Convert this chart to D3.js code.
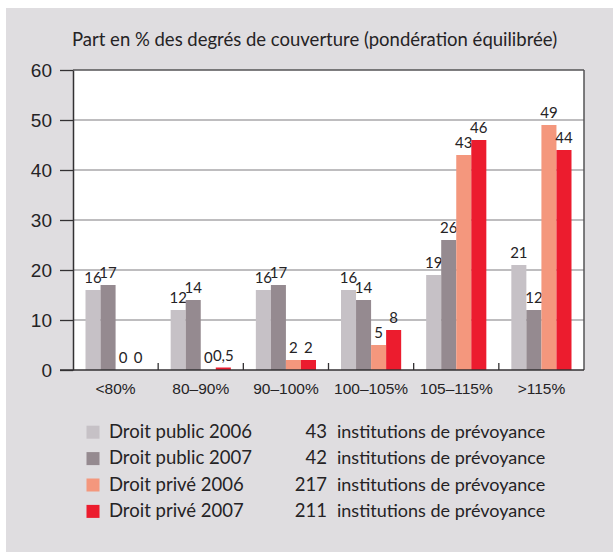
<!DOCTYPE html>
<html>
<head>
<meta charset="utf-8">
<script src="https://cdn.jsdelivr.net/npm/d3@7"></script>
<style>
	body { margin: 0; background: #ffffff; }
	svg { display: block; font-family: Lato, "Open Sans", sans-serif; }
</style>
</head>
<body>
<svg id="chart" width="613" height="552"></svg>
<script>
var categories = ["<80%", "80–90%", "90–100%", "100–105%", "105–115%", ">115%"];
var seriesNames = ["Droit public 2006", "Droit public 2007", "Droit privé 2006", "Droit privé 2007"];
var seriesCounts = ["43", "42", "217", "211"];
var publicValues2006 = [16, 12, 16, 16, 19, 21];
var publicValues2007 = [17, 14, 17, 14, 26, 12];
var privateValues2006 = [0, 0, 2, 5, 43, 49];
var privateValues2007 = [0, 0.5, 2, 8, 46, 44];
var yTicks = [0, 10, 20, 30, 40, 50, 60];
var colors = ["#c6c1c6", "#958a90", "#f4977d", "#ec1c2e"];

var allValues = [publicValues2006, publicValues2007, privateValues2006, privateValues2007];

var svg = d3.select("#chart");
var plotLeft = 73, plotRight = 584, plotTop = 70, plotBottom = 370;
var textColor = "#252325";

// grey panel
svg.append("rect")
	.attr("x", 6).attr("y", 8)
	.attr("width", 607).attr("height", 544)
	.attr("fill", "#dfdde0");

svg.append("text")
	.attr("x", 72).attr("y", 46)
	.attr("font-size", "18.5px")
	.attr("fill", textColor)
	.text("Part en % des degrés de couverture (pondération équilibrée)");

var x = d3.scaleBand()
	.domain(categories)
	.range([plotLeft, plotRight]);

var x1 = d3.scaleBand()
	.domain(seriesNames)
	.range([12.5, x.bandwidth() - 12.5]);

var y = d3.scaleLinear()
	.domain([0, 60])
	.range([plotBottom, plotTop]);

svg.append("rect")
	.attr("x", plotLeft).attr("y", plotTop)
	.attr("width", plotRight - plotLeft).attr("height", plotBottom - plotTop)
	.attr("fill", "#ffffff");

// grid
svg.append("g")
	.selectAll("line")
	.data(yTicks.filter(function(d) { return d > 0 && d < 60; }))
	.enter()
	.append("line")
	.attr("x1", plotLeft).attr("x2", plotRight)
	.attr("y1", function(d) { return y(d); })
	.attr("y2", function(d) { return y(d); })
	.attr("stroke", "#a9a7aa")
	.attr("stroke-width", 1.3);

// bars
var groups = svg.append("g")
	.selectAll("g")
	.data(categories)
	.enter()
	.append("g")
	.attr("transform", function(d) { return "translate(" + x(d) + ",0)"; });

var cells = groups.selectAll("g")
	.data(function(d, i) {
		return seriesNames.map(function(s, j) {
			return { series: s, index: j, value: allValues[j][i] };
		});
	})
	.enter()
	.append("g");

cells.append("rect")
	.attr("x", function(d) { return x1(d.series); })
	.attr("width", x1.bandwidth())
	.attr("y", function(d) { return y(d.value); })
	.attr("height", function(d) { return plotBottom - y(d.value); })
	.attr("fill", function(d) { return colors[d.index]; });

cells.append("text")
	.attr("x", function(d) { return x1(d.series) + x1.bandwidth() / 2; })
	.attr("y", function(d) { return y(d.value) - 7; })
	.attr("text-anchor", "middle")
	.attr("font-size", "15px")
	.attr("fill", textColor)
	.text(function(d) { return String(d.value).replace(".", ","); });

// top and right frame
svg.append("line")
	.attr("x1", plotLeft).attr("x2", plotRight)
	.attr("y1", plotTop).attr("y2", plotTop)
	.attr("stroke", "#555356").attr("stroke-width", 1.5);
svg.append("line")
	.attr("x1", plotRight).attr("x2", plotRight)
	.attr("y1", plotTop).attr("y2", plotBottom)
	.attr("stroke", "#555356").attr("stroke-width", 1.5);

// y axis
var yAxis = svg.append("g")
	.attr("transform", "translate(" + plotLeft + ",0)")
	.call(d3.axisLeft(y).tickValues(yTicks).tickSize(13).tickPadding(8).tickSizeOuter(0));
yAxis.select(".domain").attr("stroke", "#333133").attr("stroke-width", 1.5);
yAxis.selectAll(".tick line").attr("stroke", "#333133").attr("stroke-width", 1.3);
yAxis.selectAll(".tick text")
	.attr("font-size", "19px")
	.attr("font-family", null)
	.attr("fill", textColor);

// x axis
var xAxis = svg.append("g")
	.attr("transform", "translate(0," + plotBottom + ")")
	.call(d3.axisBottom(x).tickSize(0).tickPadding(13).tickSizeOuter(0));
xAxis.select(".domain").remove();
xAxis.selectAll(".tick text")
	.attr("font-size", "15.5px")
	.attr("font-family", null)
	.attr("fill", textColor);

svg.append("line")
	.attr("x1", 60).attr("x2", plotRight)
	.attr("y1", plotBottom).attr("y2", plotBottom)
	.attr("stroke", "#333133").attr("stroke-width", 1.5);

svg.append("g")
	.selectAll("line")
	.data(categories.slice(1))
	.enter()
	.append("line")
	.attr("x1", function(d) { return x(d); })
	.attr("x2", function(d) { return x(d); })
	.attr("y1", plotBottom).attr("y2", plotBottom - 7)
	.attr("stroke", "#333133").attr("stroke-width", 1.3);

// legend
var legend = svg.append("g")
	.selectAll("g")
	.data(seriesNames)
	.enter()
	.append("g")
	.attr("transform", function(d, i) { return "translate(0," + (i * 26.4) + ")"; });

legend.append("rect")
	.attr("x", 86.5).attr("y", 425.7)
	.attr("width", 13).attr("height", 13)
	.attr("fill", function(d, i) { return colors[i]; });

legend.append("text")
	.attr("x", 109).attr("y", 438)
	.attr("font-size", "18.5px")
	.attr("fill", textColor)
	.text(function(d) { return d; });

legend.append("text")
	.attr("x", 327).attr("y", 438)
	.attr("text-anchor", "end")
	.attr("font-size", "18.5px")
	.attr("fill", textColor)
	.text(function(d, i) { return seriesCounts[i]; });

legend.append("text")
	.attr("x", 337).attr("y", 438)
	.attr("font-size", "18px")
	.attr("fill", textColor)
	.text("institutions de prévoyance");
</script>
</body>
</html>
